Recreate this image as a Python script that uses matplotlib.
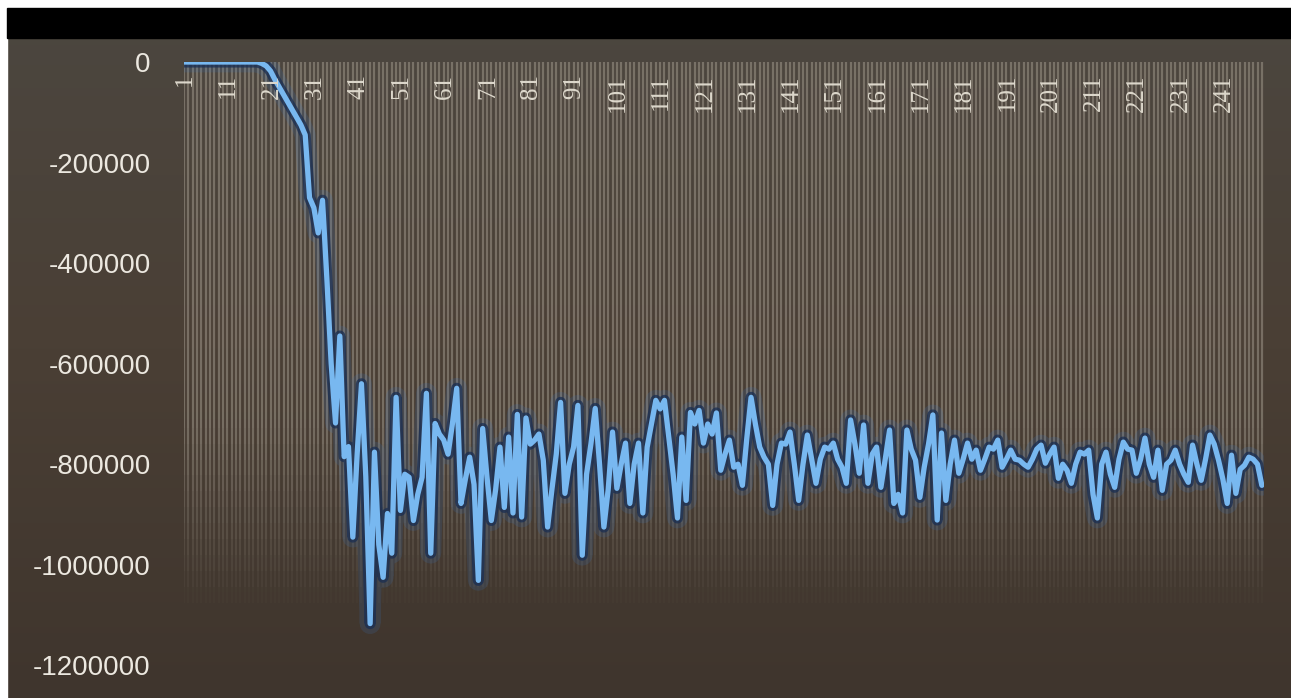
import numpy as np
import matplotlib
matplotlib.use("Agg")
import matplotlib.pyplot as plt
from matplotlib.collections import LineCollection
from matplotlib.colors import to_rgb

# Series values, one per step
values = [
    0, 0, 0, 0, 0, 0, 0, 0, 0, 0,
    0, 0, 0, 0, 0, 0, 0, 0, -3000, -8000,
    -18000, -35000, -50000, -65000, -80000, -95000, -110000, -125000, -145000, -270000,
    -290000, -340000, -275000, -430000, -600000, -718000, -545000, -785000, -765000, -945000,
    -780000, -640000, -825000, -1117000, -776000, -960000, -1025000, -898000, -977000, -667000,
    -892000, -820000, -826000, -912000, -860000, -826000, -659000, -977000, -719000, -740000,
    -752000, -780000, -720000, -649000, -878000, -830000, -786000, -840000, -1031000, -729000,
    -826000, -912000, -850000, -766000, -886000, -746000, -897000, -701000, -905000, -708000,
    -760000, -752000, -740000, -792000, -925000, -850000, -780000, -677000, -858000, -800000,
    -766000, -683000, -981000, -820000, -760000, -689000, -800000, -925000, -850000, -736000,
    -848000, -800000, -758000, -878000, -800000, -758000, -897000, -766000, -720000, -673000,
    -690000, -673000, -746000, -820000, -907000, -746000, -872000, -697000, -720000, -693000,
    -758000, -720000, -740000, -698000, -812000, -780000, -752000, -806000, -800000, -842000,
    -750000, -667000, -720000, -766000, -786000, -800000, -882000, -800000, -758000, -760000,
    -736000, -800000, -872000, -800000, -742000, -790000, -838000, -790000, -766000, -770000,
    -758000, -790000, -806000, -838000, -712000, -760000, -818000, -722000, -838000, -780000,
    -766000, -846000, -790000, -732000, -878000, -860000, -897000, -732000, -770000, -792000,
    -866000, -806000, -760000, -702000, -911000, -738000, -872000, -800000, -752000, -818000,
    -790000, -758000, -790000, -772000, -812000, -790000, -766000, -770000, -752000, -806000,
    -790000, -772000, -790000, -792000, -800000, -806000, -790000, -770000, -762000, -798000,
    -780000, -766000, -828000, -800000, -812000, -838000, -800000, -776000, -780000, -772000,
    -860000, -907000, -800000, -776000, -820000, -846000, -790000, -756000, -770000, -772000,
    -818000, -790000, -748000, -800000, -826000, -772000, -852000, -800000, -792000, -772000,
    -800000, -820000, -836000, -762000, -800000, -832000, -790000, -742000, -760000, -792000,
    -830000, -878000, -782000, -858000, -810000, -802000, -786000, -790000, -800000, -842000,
]
steps = list(range(1, len(values) + 1))

x_tick_positions = list(range(1, 242, 10))
x_tick_labels = [str(v) for v in x_tick_positions]
y_tick_positions = [0, -200000, -400000, -600000, -800000, -1000000, -1200000]
y_tick_labels = [str(v) for v in y_tick_positions]

W, H = 1291, 698
fig = plt.figure(figsize=(W / 100, H / 100), dpi=100)

# Full-figure background gradient
bg = fig.add_axes([0, 0, 1, 1], zorder=-10)
bg.set_axis_off()
top_c = np.array(to_rgb("#4c4740"))
mid_c = np.array(to_rgb("#4a3f35"))
bot_c = np.array(to_rgb("#3f352d"))
t = np.linspace(0, 1, 256)[:, None]
grad = np.where(t < 0.5,
                top_c + (mid_c - top_c) * (t / 0.5),
                mid_c + (bot_c - mid_c) * ((t - 0.5) / 0.5))
grad = np.repeat(grad[:, None, :], 4, axis=1).reshape(256, 4, 3)
bg.imshow(grad, aspect="auto", extent=[0, 1, 0, 1], origin="upper")
bg.set_xlim(0, 1)
bg.set_ylim(0, 1)

# White frame edges and black title band
fig.patches.append(plt.Rectangle((0, 0), 7 / W, 1, transform=fig.transFigure,
                                 color="white", zorder=5))
fig.patches.append(plt.Rectangle((0, 1 - 8 / H), 1, 8 / H, transform=fig.transFigure,
                                 color="white", zorder=5))
fig.patches.append(plt.Rectangle((7 / W, 1 - 38 / H), 1, 30 / H, transform=fig.transFigure,
                                 color="black", zorder=5))

# Plot area
left, right = 184 / W, 1264 / W
ax = fig.add_axes([left, 0, right - left, (H - 62) / H])
ax.set_facecolor("none")
ax.set_xlim(1, 250.5)
ax.set_ylim(-1265000, 0)
for s in ax.spines.values():
    s.set_visible(False)

# Vertical gridlines per category, fading toward the bottom
n_seg = 40
ys = np.linspace(0, -1265000, n_seg + 1)
segs, cols = [], []
grid_rgb = to_rgb("#978f83")
for xi in steps:
    for k in range(n_seg):
        ymid = 0.5 * (ys[k] + ys[k + 1])
        if ymid > -720000:
            a = 0.6
        elif ymid > -1080000:
            a = 0.6 * (ymid + 1080000) / 360000
        else:
            a = 0.0
        segs.append([(xi, ys[k]), (xi, ys[k + 1])])
        cols.append((*grid_rgb, a))
ax.add_collection(LineCollection(segs, colors=cols, linewidths=1.6, zorder=1))

# Glowing series line
ax.plot(steps, values, color="#3a72b8", lw=15, alpha=0.18,
        solid_joinstyle="round", solid_capstyle="round", zorder=2)
ax.plot(steps, values, color="#1a2e52", lw=8, alpha=0.75,
        solid_joinstyle="round", solid_capstyle="round", zorder=3)
ax.plot(steps, values, color="#78b8f0", lw=3.8,
        solid_joinstyle="round", solid_capstyle="round", zorder=4)

# Category labels hanging just below the zero line
ax.set_xticks([])
for pos, txt in zip(x_tick_positions, x_tick_labels):
    ax.annotate(txt, xy=(pos, 1), xycoords=("data", "axes fraction"),
                xytext=(1, -12), textcoords="offset pixels",
                rotation=90, ha="center", va="top",
                fontsize=18, family="Liberation Serif", color="#ddd8cc",
                zorder=6)

ax.set_yticks(y_tick_positions, y_tick_labels)
ax.tick_params(axis="y", length=0, pad=24, labelsize=20, labelcolor="#ece8e0",
               labelfontfamily="Liberation Sans")

fig.savefig("out.png", dpi=100)
